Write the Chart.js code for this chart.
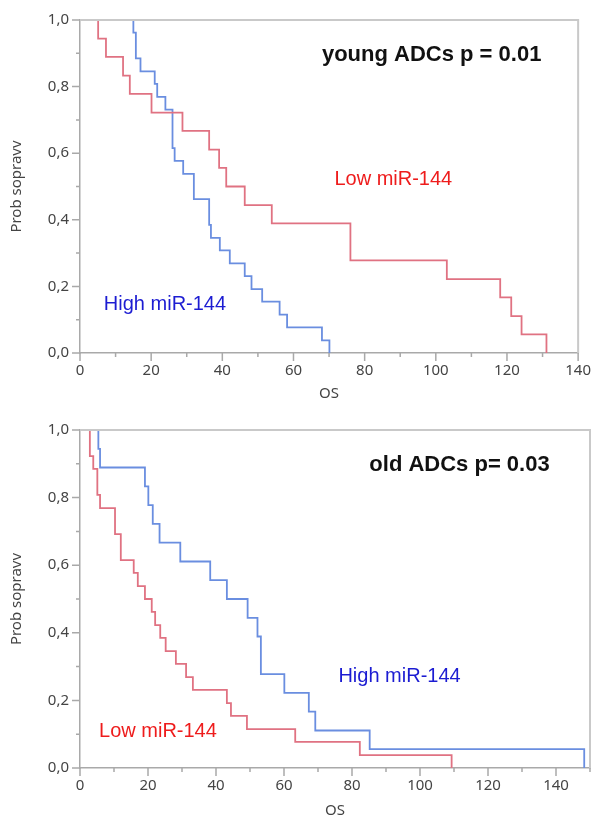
<!DOCTYPE html>
<html lang="sk">
<head>
<meta charset="UTF-8">
<title>Prežívanie podľa miR-144</title>
<script src="https://cdn.jsdelivr.net/npm/chart.js@4.4.1/dist/chart.umd.min.js"></script>
<style>
    html, body { margin: 0; padding: 0; background: #ffffff; }
    .panel { position: absolute; left: 0; width: 600px; }
    #panelYoung { top: 0; height: 410px; }
    #panelOld { top: 410px; height: 415px; }
</style>
</head>
<body>
<div class="panel" id="panelYoung"><canvas id="youngChart" width="600" height="410"></canvas></div>
<div class="panel" id="panelOld"><canvas id="oldChart" width="600" height="415"></canvas></div>

<script>
// Datos Kaplan-Meier (tiempo OS, probabilidad)
const youngLowTimes = [0, 5.1, 7.3, 12.1, 14.0, 20.1, 28.8, 36.3, 39.1, 41.1, 46.3, 53.9, 76.0, 103.1, 118.1, 121.2, 124.1, 131.1];
const youngLowSurv  = [1, 0.944, 0.889, 0.833, 0.778, 0.722, 0.667, 0.611, 0.556, 0.5, 0.444, 0.389, 0.278, 0.222, 0.167, 0.111, 0.056, 0];

const youngHighTimes = [0, 15.0, 15.7, 17.0, 21.0, 21.7, 24.0, 26.0, 26.6, 29.0, 32.0, 36.3, 36.8, 39.3, 42.1, 46.3, 48.2, 51.2, 56.1, 58.2, 68.0, 70.1];
const youngHighSurv  = [1, 0.962, 0.885, 0.846, 0.808, 0.769, 0.731, 0.615, 0.577, 0.538, 0.462, 0.385, 0.346, 0.308, 0.269, 0.231, 0.192, 0.154, 0.115, 0.077, 0.038, 0];

const oldLowTimes = [0, 2.9, 3.9, 5.1, 5.9, 10.3, 12.0, 15.8, 17.0, 19.1, 21.1, 22.1, 23.6, 25.2, 28.2, 31.2, 33.2, 43.2, 44.4, 49.1, 63.3, 82.3, 109.3];
const oldLowSurv  = [1, 0.923, 0.885, 0.808, 0.769, 0.692, 0.615, 0.577, 0.538, 0.5, 0.462, 0.423, 0.385, 0.346, 0.308, 0.269, 0.231, 0.192, 0.154, 0.115, 0.077, 0.038, 0];

const oldHighTimes = [0, 5.4, 5.9, 19.1, 20.1, 21.4, 23.4, 29.5, 38.3, 43.2, 49.3, 52.2, 53.2, 60.1, 67.3, 69.2, 85.2, 148.3];
const oldHighSurv  = [1, 0.944, 0.889, 0.833, 0.778, 0.722, 0.667, 0.611, 0.556, 0.5, 0.444, 0.389, 0.278, 0.222, 0.167, 0.111, 0.056, 0];

// Ejes
const youngXMax = 140;
const oldXMax = 150;
const xTickStep = 20;
const yTickStep = 0.2;

const colorLow = '#e07282';
const colorHigh = '#6a8ee0';
const fuenteEje = { family: 'Noto Sans', size: 15 };

// Une tiempos y probabilidades en puntos {x, y}
function armarPuntos(tiempos, surv) {
    return tiempos.map((t, i) => ({ x: t, y: surv[i] }));
}

// Marco, ticks menores y textos dentro del gráfico
const marcoPlugin = {
    id: 'marco',
    afterDatasetsDraw(chart, args, opts) {
        const ctx = chart.ctx;
        const area = chart.chartArea;
        const xs = chart.scales.x;
        const ys = chart.scales.y;
        ctx.save();

        ctx.strokeStyle = '#c9c9c9';
        ctx.lineWidth = 2;
        ctx.beginPath();
        ctx.moveTo(area.left, area.top);
        ctx.lineTo(area.right, area.top);
        ctx.lineTo(area.right, area.bottom);
        ctx.stroke();

        ctx.strokeStyle = '#a9a9a9';
        ctx.lineWidth = 1.5;
        ctx.beginPath();
        for (let v = 0; v <= opts.xMax + 0.01; v += 10) {
            const px = xs.getPixelForValue(v);
            const len = v % 20 === 0 ? 8 : 4;
            ctx.moveTo(px, area.bottom);
            ctx.lineTo(px, area.bottom + len);
        }
        for (let i = 0; i <= 10; i++) {
            const py = ys.getPixelForValue(i / 10);
            const len = i % 2 === 0 ? 8 : 4;
            ctx.moveTo(area.left, py);
            ctx.lineTo(area.left - len, py);
        }
        ctx.stroke();

        ctx.textAlign = 'left';
        ctx.textBaseline = 'middle';
        opts.textos.forEach(t => {
            ctx.font = t.font;
            ctx.fillStyle = t.color;
            ctx.fillText(t.text, xs.getPixelForValue(t.x), ys.getPixelForValue(t.y));
        });
        ctx.restore();
    }
};

function crearKM(canvasId, panel) {
    const ctx = document.getElementById(canvasId).getContext('2d');
    return new Chart(ctx, {
        type: 'line',
        data: {
            datasets: [
                {
                    label: 'Low miR-144',
                    data: armarPuntos(panel.lowTimes, panel.lowSurv),
                    borderColor: colorLow,
                    borderWidth: 1.8,
                    stepped: true,
                    pointRadius: 0,
                    fill: false
                },
                {
                    label: 'High miR-144',
                    data: armarPuntos(panel.highTimes, panel.highSurv),
                    borderColor: colorHigh,
                    borderWidth: 1.8,
                    stepped: true,
                    pointRadius: 0,
                    fill: false
                }
            ]
        },
        options: {
            responsive: false,
            animation: false,
            devicePixelRatio: 1,
            layout: {
                padding: { top: 14, right: panel.padRight, left: 0, bottom: 0 }
            },
            plugins: {
                legend: { display: false },
                tooltip: { enabled: false },
                marco: { xMax: panel.xMax, textos: panel.textos }
            },
            scales: {
                x: {
                    type: 'linear',
                    min: 0,
                    max: panel.xMax,
                    afterFit: s => { s.height = panel.xAxisHeight; },
                    afterBuildTicks: s => {
                        const ticks = [];
                        for (let v = 0; v <= panel.xMax; v += xTickStep) ticks.push({ value: v });
                        s.ticks = ticks;
                    },
                    grid: { drawOnChartArea: false, drawTicks: false },
                    border: { color: '#a9a9a9', width: 1.5 },
                    ticks: {
                        stepSize: xTickStep,
                        padding: 9,
                        color: '#444444',
                        font: fuenteEje
                    },
                    title: {
                        display: true,
                        text: 'OS',
                        color: '#444444',
                        font: fuenteEje,
                        padding: { top: 0, bottom: panel.osPad }
                    }
                },
                y: {
                    min: 0,
                    max: 1,
                    afterFit: s => { s.width = 80; },
                    grid: { drawOnChartArea: false, drawTicks: false },
                    border: { color: '#a9a9a9', width: 1.5 },
                    ticks: {
                        stepSize: yTickStep,
                        padding: 11,
                        color: '#444444',
                        font: fuenteEje,
                        callback: v => v.toFixed(1).replace('.', ',')
                    },
                    title: {
                        display: true,
                        text: 'Prob sopravv',
                        color: '#444444',
                        font: fuenteEje,
                        padding: { top: 8, bottom: 0 }
                    }
                }
            }
        },
        plugins: [marcoPlugin]
    });
}

document.addEventListener('DOMContentLoaded', function() {
    crearKM('youngChart', {
        lowTimes: youngLowTimes, lowSurv: youngLowSurv,
        highTimes: youngHighTimes, highSurv: youngHighSurv,
        xMax: youngXMax, padRight: 21, xAxisHeight: 57, osPad: 7,
        textos: [
            { text: 'young ADCs p = 0.01', x: 68, y: 0.894, color: '#111111', font: 'bold 22px "Liberation Sans", Arial, sans-serif' },
            { text: 'Low miR-144', x: 71.5, y: 0.522, color: '#ee1c1c', font: '20px "Liberation Sans", Arial, sans-serif' },
            { text: 'High miR-144', x: 6.7, y: 0.147, color: '#1c1cd2', font: '20px "Liberation Sans", Arial, sans-serif' }
        ]
    });

    crearKM('oldChart', {
        lowTimes: oldLowTimes, lowSurv: oldLowSurv,
        highTimes: oldHighTimes, highSurv: oldHighSurv,
        xMax: oldXMax, padRight: 10, xAxisHeight: 57, osPad: 5,
        textos: [
            { text: 'old ADCs p= 0.03', x: 85.1, y: 0.897, color: '#111111', font: 'bold 22px "Liberation Sans", Arial, sans-serif' },
            { text: 'Low miR-144', x: 5.6, y: 0.108, color: '#ee1c1c', font: '20px "Liberation Sans", Arial, sans-serif' },
            { text: 'High miR-144', x: 76.0, y: 0.27, color: '#1c1cd2', font: '20px "Liberation Sans", Arial, sans-serif' }
        ]
    });
});
</script>
</body>
</html>
